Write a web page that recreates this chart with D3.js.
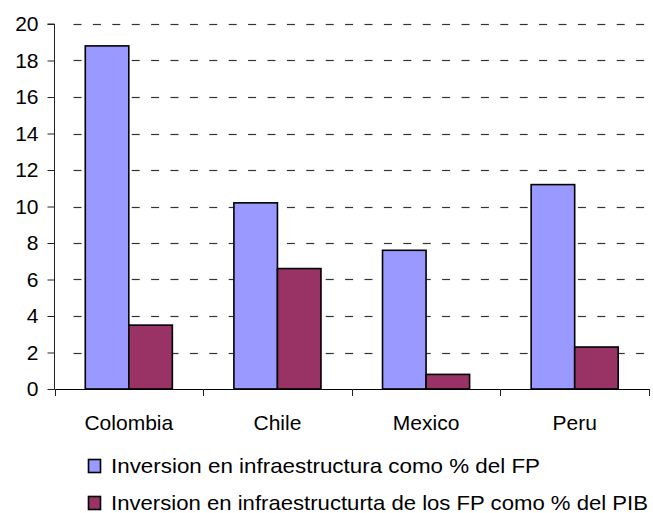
<!DOCTYPE html>
<html>
<head>
<meta charset="utf-8">
<script src="https://cdn.jsdelivr.net/npm/d3@7"></script>
<style>
  html, body { margin: 0; padding: 0; background: #fff; }
  svg { display: block; font-family: "Liberation Sans", Arial, sans-serif; }
</style>
</head>
<body>
<svg id="chart" width="653" height="513"></svg>
<script>
// Countries on the category axis
const categories = ["Colombia", "Chile", "Mexico", "Peru"];
// Series names shown in the legend
const seriesNames = [
  "Inversion en infraestructura como % del FP",
  "Inversion en infraestructurta de los FP como % del PIB"
];
// Values per country, one array per series
const investFP = [18.8, 10.2, 7.6, 11.2];
const investPIB = [3.5, 6.6, 0.8, 2.3];
// Value axis ticks
const yTicks = [0, 2, 4, 6, 8, 10, 12, 14, 16, 18, 20];

const colors = ["#9999FF", "#993366"];
const seriesValues = [investFP, investPIB];

const svg = d3.select("#chart");

const plot = { left: 54.5, right: 649, top: 24, bottom: 389 };

const x0 = d3.scaleBand()
  .domain(categories)
  .range([plot.left, plot.right])
  .padding(0);

const x1 = d3.scaleBand()
  .domain(d3.range(seriesNames.length))
  .range([0, x0.bandwidth()])
  .paddingInner(0)
  .paddingOuter(0.707);

const y = d3.scaleLinear()
  .domain([0, 20])
  .range([plot.bottom, plot.top]);

// Dashed horizontal gridlines, built as short segments
const dash = 8, gap = 11.4;
const gridSegments = [];
yTicks.filter(d => d > 0).forEach(d => {
  for (let x = plot.left + 19; x < plot.right; x += dash + gap) {
    gridSegments.push({ v: d, x1: x, x2: Math.min(x + dash, plot.right) });
  }
});
svg.append("g")
  .attr("class", "grid")
  .selectAll("line")
  .data(gridSegments)
  .join("line")
  .attr("x1", s => s.x1)
  .attr("x2", s => s.x2)
  .attr("y1", s => Math.round(y(s.v)) + 0.5)
  .attr("y2", s => Math.round(y(s.v)) + 0.5)
  .attr("stroke", "#333")
  .attr("stroke-width", 1.2);

// Bars
const groups = svg.append("g")
  .selectAll("g")
  .data(categories)
  .join("g")
  .attr("transform", d => `translate(${x0(d)},0)`);

groups.selectAll("rect")
  .data((c, i) => seriesValues.map((vals, s) => ({ s, v: vals[i] })))
  .join("rect")
  .attr("x", d => x1(d.s))
  .attr("width", x1.bandwidth())
  .attr("y", d => y(d.v))
  .attr("height", d => y(0) - y(d.v))
  .attr("fill", d => colors[d.s])
  .attr("stroke", "#000")
  .attr("stroke-width", 1.6);

// Value axis
const yAxis = d3.axisLeft(y)
  .tickValues(yTicks)
  .tickSize(7)
  .tickPadding(9)
  .tickFormat(d3.format("d"));

const gy = svg.append("g")
  .attr("transform", `translate(${plot.left},0)`)
  .call(yAxis);
gy.select(".domain").attr("stroke", "#222").attr("d", `M-7,${y(20)}H0V${y(0)}`);
gy.selectAll(".tick line").attr("stroke", "#222");
gy.selectAll(".tick text")
  .attr("font-size", 21)
  .attr("font-family", "'Liberation Sans', Arial, sans-serif")
  .attr("fill", "#000");

// Category axis
const gx = svg.append("g")
  .attr("transform", `translate(0,${plot.bottom})`);
gx.append("line")
  .attr("x1", plot.left).attr("x2", plot.right)
  .attr("y1", 0.5).attr("y2", 0.5)
  .attr("stroke", "#000");
const boundaries = categories.map(c => x0(c)).concat([plot.right]);
gx.selectAll("line.tk")
  .data(boundaries)
  .join("line")
  .attr("class", "tk")
  .attr("x1", d => Math.round(d) + 0.5).attr("x2", d => Math.round(d) + 0.5)
  .attr("y1", 0).attr("y2", 7)
  .attr("stroke", "#222");
gx.selectAll("text")
  .data(categories)
  .join("text")
  .attr("x", d => x0(d) + x0.bandwidth() / 2)
  .attr("y", 41)
  .attr("text-anchor", "middle")
  .attr("font-size", 21)
  .attr("fill", "#000")
  .text(d => d);

// Legend
const legendWidths = [429, 537];
const legend = svg.append("g")
  .selectAll("g")
  .data(seriesNames)
  .join("g")
  .attr("transform", (d, i) => `translate(88,${459 + i * 37})`);
legend.append("rect")
  .attr("x", 0.5).attr("y", 0.5)
  .attr("width", 12).attr("height", 13)
  .attr("fill", (d, i) => colors[i])
  .attr("stroke", "#000")
  .attr("stroke-width", 1.6);
legend.append("text")
  .attr("x", 23)
  .attr("y", 14)
  .attr("font-size", 21)
  .attr("fill", "#000")
  .attr("textLength", (d, i) => legendWidths[i])
  .attr("lengthAdjust", "spacingAndGlyphs")
  .text(d => d);
</script>
</body>
</html>
